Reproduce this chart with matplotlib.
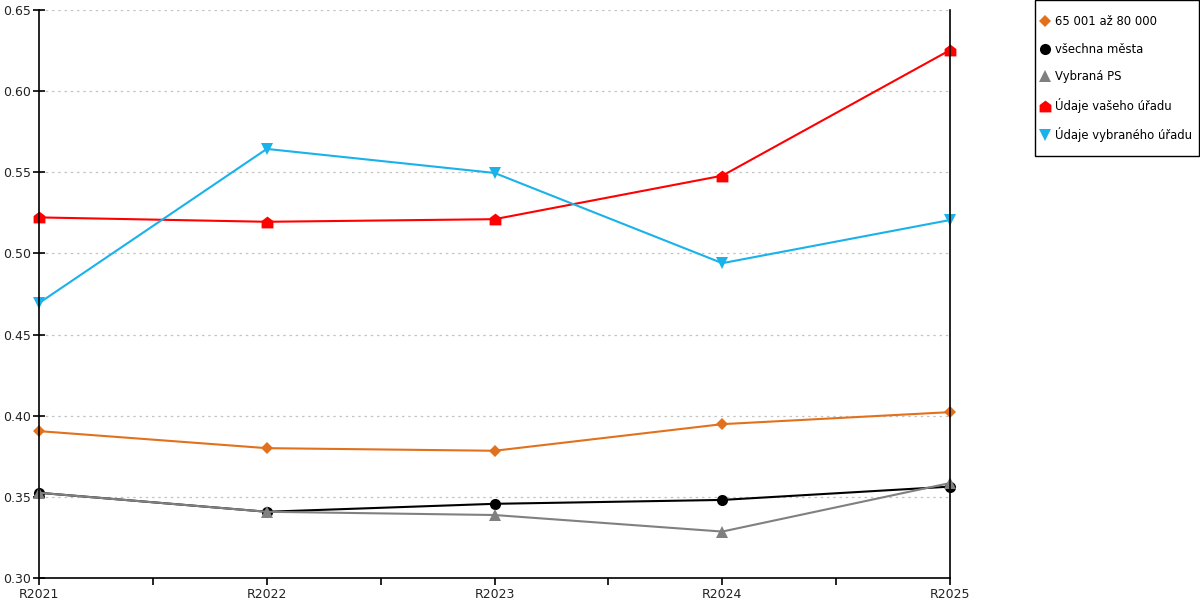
# Graf vývoje ukazatele pro jednotlivé skupiny úřadů
import numpy as np
import matplotlib.pyplot as plt
from matplotlib.lines import Line2D
from matplotlib.patches import Rectangle
from matplotlib.path import Path

# Data
roky = ['R2021', 'R2022', 'R2023', 'R2024', 'R2025']
skupina_65_80 = [0.3905, 0.3800, 0.3784, 0.3948, 0.4022]
vsechna_mesta = [0.3525, 0.3408, 0.3457, 0.3481, 0.3563]
vybrana_ps = [0.3525, 0.3408, 0.3388, 0.3286, 0.3585]
vas_urad = [0.5222, 0.5195, 0.5211, 0.5479, 0.6253]
vybrany_urad = [0.4694, 0.5644, 0.5496, 0.4940, 0.5206]

# Tvar "domečku" pro značku vašeho úřadu
domek = Path([(-1, -1), (1, -1), (1, 0.25), (0, 1), (-1, 0.25), (-1, -1)],
             [Path.MOVETO, Path.LINETO, Path.LINETO, Path.LINETO, Path.LINETO, Path.CLOSEPOLY])

serie = [
    ('65 001 až 80 000', skupina_65_80, '#E2711D', 'D', 6.5),
    ('všechna města', vsechna_mesta, '#000000', 'o', 8),
    ('Vybraná PS', vybrana_ps, '#808080', '^', 9),
    ('Údaje vašeho úřadu', vas_urad, '#FF0000', domek, 8.5),
    ('Údaje vybraného úřadu', vybrany_urad, '#19B2EA', 'v', 9),
]

plt.rcParams['font.family'] = 'DejaVu Sans'
fig = plt.figure(figsize=(12, 6), dpi=100)
ax = fig.add_axes([0.0325, 0.0367, 0.7592, 0.9466])

x = np.arange(len(roky))
handles = []
for nazev, hodnoty, barva, znacka, velikost in serie:
    ax.plot(x, hodnoty, color=barva, linewidth=1.5, marker=znacka,
            markersize=velikost, markeredgewidth=0, clip_on=False)
    handles.append(Line2D([], [], color=barva, linestyle='None', marker=znacka,
                          markersize=velikost, markeredgewidth=0, label=nazev))

ax.set_xlim(0, len(roky) - 1)
ax.set_ylim(0.30, 0.65)
ax.set_yticks(np.arange(0.30, 0.651, 0.05))
ax.set_yticklabels([f'{v:.2f}' for v in np.arange(0.30, 0.651, 0.05)])
ax.set_xticks(x)
ax.set_xticklabels(roky)
ax.set_xticks(x[:-1] + 0.5, minor=True)

ax.grid(axis='y', color='#C4C4C4', linestyle=(0, (2, 3)), linewidth=0.9)
ax.set_axisbelow(True)
ax.spines['top'].set_visible(False)
for s in ['left', 'bottom', 'right']:
    ax.spines[s].set_linewidth(1.2)
    ax.spines[s].set_color('black')

ax.tick_params(axis='x', which='both', direction='out', length=5, width=1.2,
               labelsize=9, pad=2, colors='black', labelcolor='#222222')
ax.tick_params(axis='y', which='both', direction='inout', length=8, width=1.2,
               labelsize=9, pad=2, colors='black', labelcolor='#222222')

# Legenda bez vlastního rámečku, rámeček se kreslí zvlášť
leg = fig.legend(handles=handles, loc='upper left',
                 bbox_to_anchor=(1040 / 1200, 585 / 600),
                 fontsize=8.4, frameon=False,
                 handlelength=0.8, handletextpad=0.45, labelspacing=1.25,
                 borderpad=0.0, borderaxespad=0.0)
fig.patches.append(Rectangle((1034.5 / 1200, 444.5 / 600), 164 / 1200, 155 / 600,
                             transform=fig.transFigure, fill=False,
                             edgecolor='black', linewidth=1.0))

fig.savefig('out.png', dpi=100)
